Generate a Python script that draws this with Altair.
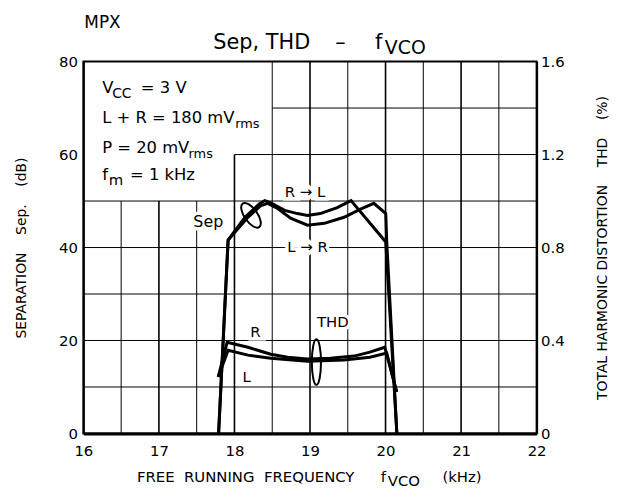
import altair as alt
import pandas as pd

FONT = "DejaVu Sans"

# ---- data ----
# Separation (dB) vs free-running frequency (kHz)
sep_a_khz = [17.79, 17.916, 18.139, 18.336, 18.402, 18.467, 18.664, 18.835, 18.966, 19.136, 19.360, 19.543, 20.003, 20.15]
sep_a_db = [0, 41.6, 46.5, 49.5, 50.1, 49.7, 48.0, 47.3, 46.9, 47.3, 48.6, 50.1, 41.2, 0]
sep_b_khz = [17.79, 17.916, 18.178, 18.349, 18.441, 18.572, 18.743, 18.966, 19.189, 19.451, 19.661, 19.845, 20.003, 20.016, 20.15]
sep_b_db = [0, 41.6, 46.5, 49.0, 49.5, 48.4, 46.3, 44.8, 45.2, 46.5, 48.2, 49.5, 47.3, 41.2, 0]
# THD (%) vs frequency
thd_r_khz = [17.785, 17.903, 18.178, 18.480, 18.703, 18.966, 19.268, 19.583, 19.793, 19.990, 20.147]
thd_r_pct = [0.243, 0.392, 0.371, 0.341, 0.328, 0.320, 0.324, 0.333, 0.350, 0.371, 0.179]
thd_l_khz = [17.785, 17.916, 18.178, 18.480, 18.966, 19.451, 19.793, 20.016, 20.147]
thd_l_pct = [0.243, 0.358, 0.337, 0.324, 0.311, 0.316, 0.328, 0.346, 0.179]

x_ticks = [16, 17, 18, 19, 20, 21, 22]
sep_ticks = [0, 20, 40, 60, 80]
thd_ticks = [0, 0.4, 0.8, 1.2, 1.6]

# grid: vertical lines every 0.5 kHz (with their top), horizontal every 10 dB (with their start)
vgrid_x = [16.5, 17, 17.5, 18, 18.5, 19, 19.5, 20, 20.5, 21, 21.5]
vgrid_top = [50, 50, 50, 60, 80, 80, 80, 80, 80, 80, 80]
hgrid_y = [10, 20, 30, 40, 50, 60, 70]
hgrid_start = [16, 16, 16, 16, 16, 18, 18.5]

NB = "\u00a0"
# annotations (text, x kHz, y dB, font size)
left_texts = [
    ("MPX", 16.013, 87.25, 17),
    ("Sep, THD", 17.720, 82.77, 21),
    ("\u2013", 19.335, 82.77, 21),
    ("f", 19.860, 82.77, 21),
    ("VCO", 19.991, 81.71, 19),
    ("V", 16.249, 73.17, 16.5),
    ("CC", 16.381, 72.11, 14),
    ("= 3 V", 16.761, 73.17, 16.5),
    ("L + R = 180 mV", 16.249, 66.77, 16.5),
    ("rms", 18.009, 65.71, 13),
    ("P = 20 mV", 16.249, 60.37, 16.5),
    ("rms", 17.392, 59.31, 13),
    ("f", 16.249, 54.61, 16.5),
    ("m", 16.335, 53.55, 15),
    ("= 1 kHz", 16.617, 54.61, 16.5),
    ("FREE" + NB * 2 + "RUNNING" + NB * 2 + "FREQUENCY", 16.709, -10.5, 15),
    ("f", 19.938, -10.5, 15),
    ("VCO", 20.030, -11.4, 15),
    ("(kHz)", 20.753, -10.5, 15),
]
center_texts = [
    ("Sep", 17.654, 44.37, 16),
    ("R \u2192 L", 18.934, 50.77, 15),
    ("L \u2192 R", 18.967, 39.04, 15),
    ("THD", 19.302, 22.83, 15),
    ("R", 18.278, 20.69, 15),
    ("L", 18.160, 11.09, 15),
]
sep_loop = (18.219, 46.93)
thd_loop = (19.085, 15.36)

# ---- tables ----
def series(name, xs, ys):
    return pd.DataFrame({"khz": xs, "v": ys, "series": name, "i": range(len(xs))})

sep_df = pd.concat([series("R\u2192L", sep_a_khz, sep_a_db), series("L\u2192R", sep_b_khz, sep_b_db)])
thd_df = pd.concat([series("R", thd_r_khz, thd_r_pct), series("L", thd_l_khz, thd_l_pct)])
vg_df = pd.DataFrame({"x": vgrid_x, "y0": 0, "y1": vgrid_top,
                      "w": [1.6 if float(v).is_integer() else 1.0 for v in vgrid_x]})
hg_df = pd.DataFrame({"y": hgrid_y, "x0": hgrid_start, "x1": 22})
lt_df = pd.DataFrame(left_texts, columns=["t", "x", "y", "s"])
ct_df = pd.DataFrame(center_texts, columns=["t", "x", "y", "s"])

xscale = alt.Scale(domain=[16, 22], nice=False, zero=False)
dbscale = alt.Scale(domain=[0, 80], nice=False, zero=False)
thdscale = alt.Scale(domain=[0, 1.6], nice=False, zero=False)

xaxis = alt.Axis(values=x_ticks, format="d", title=None, grid=False, ticks=False,
                 labelFont=FONT, labelFontSize=15, labelColor="black", labelPadding=10,
                 labelFlush=False, domainColor="black", domainWidth=3)
left_axis = alt.Axis(values=sep_ticks,
                     title="SEPARATION" + NB * 4 + "Sep." + NB * 4 + "(dB)",
                     titleFont=FONT, titleFontSize=14, titleFontWeight="normal", titleColor="black",
                     titlePadding=30, grid=False, ticks=False, labelFont=FONT, labelFontSize=15,
                     labelColor="black", labelPadding=6, labelFlush=False,
                     domainColor="black", domainWidth=2)
right_axis = alt.Axis(values=thd_ticks, orient="right",
                      labelExpr="datum.value == 0 ? '0' : format(datum.value, '.1f')",
                      title="TOTAL HARMONIC DISTORTION" + NB * 4 + "THD" + NB * 4 + "(%)",
                      titleAngle=270, titleFont=FONT, titleFontSize=14, titleFontWeight="normal",
                      titleColor="black", titlePadding=46, grid=False, ticks=False, labelFont=FONT,
                      labelFontSize=15, labelColor="black", labelPadding=4, labelFlush=False,
                      domainColor="black", domainWidth=2)

X = lambda f: alt.X(f, scale=xscale, axis=xaxis)
Ydb = lambda f: alt.Y(f, scale=dbscale, axis=None)

vgrid = alt.Chart(vg_df).mark_rule(color="black").encode(
    x=X("x:Q"), y=Ydb("y0:Q"), y2="y1:Q", strokeWidth=alt.StrokeWidth("w:Q", scale=None))
hgrid = alt.Chart(hg_df).mark_rule(color="black", strokeWidth=1).encode(
    x=X("x0:Q"), x2="x1:Q", y=Ydb("y:Q"))

halo = alt.Chart(ct_df).mark_text(font=FONT, align="center", baseline="alphabetic",
                                  color="white", stroke="white", strokeWidth=7).encode(
    x=X("x:Q"), y=Ydb("y:Q"), text="t:N", size=alt.Size("s:Q", scale=None))

sep = alt.Chart(sep_df).mark_line(color="black", strokeWidth=3).encode(
    x=X("khz:Q"), y=alt.Y("v:Q", scale=dbscale, axis=left_axis),
    detail="series:N", order="i:Q")
thd = alt.Chart(thd_df).mark_line(color="black", strokeWidth=3).encode(
    x=X("khz:Q"), y=alt.Y("v:Q", scale=thdscale, axis=right_axis),
    detail="series:N", order="i:Q")

loop_a = alt.Chart(pd.DataFrame({"x": [sep_loop[0]], "y": [sep_loop[1]]})).mark_point(
    shape="M0,-1A0.45,1,0,1,1,0,1A0.45,1,0,1,1,0,-1Z", size=841, angle=325,
    filled=False, stroke="black", strokeWidth=2, opacity=1).encode(x=X("x:Q"), y=Ydb("y:Q"))
loop_b = alt.Chart(pd.DataFrame({"x": [thd_loop[0]], "y": [thd_loop[1]]})).mark_point(
    shape="M0,-1A0.2,1,0,1,1,0,1A0.2,1,0,1,1,0,-1Z", size=2116,
    filled=False, stroke="black", strokeWidth=2, opacity=1).encode(x=X("x:Q"), y=Ydb("y:Q"))

ctext = alt.Chart(ct_df).mark_text(font=FONT, align="center", baseline="alphabetic",
                                   color="black").encode(
    x=X("x:Q"), y=Ydb("y:Q"), text="t:N", size=alt.Size("s:Q", scale=None))
ltext = alt.Chart(lt_df).mark_text(font=FONT, align="left", baseline="alphabetic",
                                   color="black").encode(
    x=X("x:Q"), y=Ydb("y:Q"), text="t:N", size=alt.Size("s:Q", scale=None))

chart = alt.layer(vgrid, hgrid, halo, sep, thd, loop_a, loop_b, ctext, ltext).resolve_scale(
    y="independent"
).properties(
    width=457, height=375,
    autosize=alt.AutoSizeParams(type="none"),
    padding={"left": 76, "top": 52, "right": 76, "bottom": 56},
    background="white",
).configure_view(stroke="black", strokeWidth=2)

chart.save("out.html", embed_options={"renderer": "svg", "actions": False})
